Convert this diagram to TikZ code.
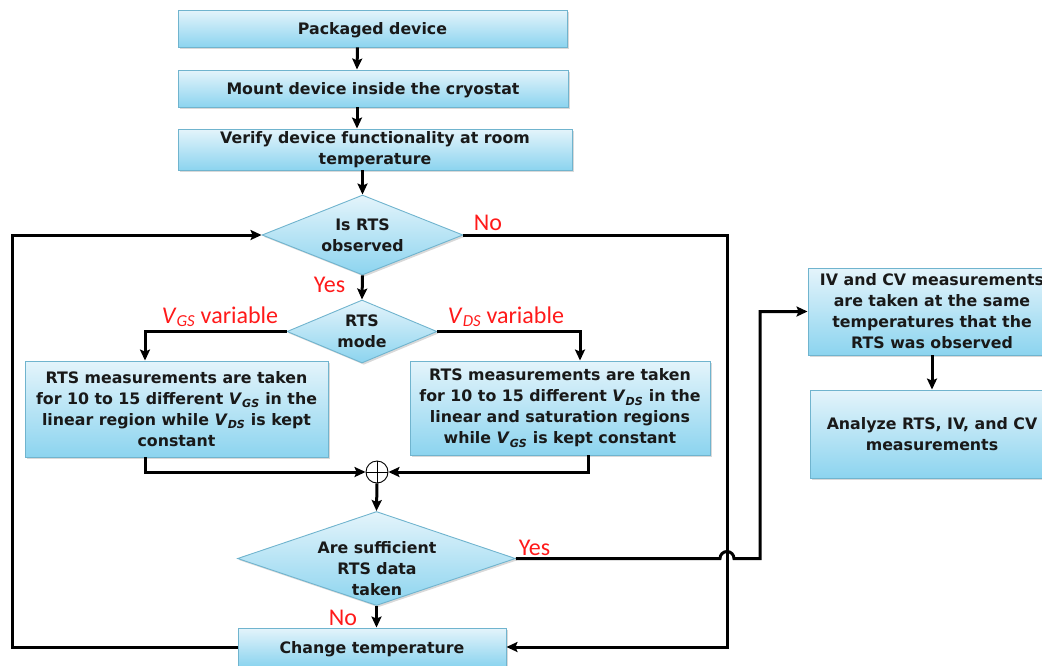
\documentclass[tikz,border=0pt]{standalone}
\usepackage{fontspec}
\setmainfont{DejaVu Sans}
\newfontfamily\lblfont{Carlito}
\usetikzlibrary{shapes.geometric,arrows.meta,shadows,calc}

\definecolor{boxtop}{HTML}{E4F4FB}
\definecolor{boxbot}{HTML}{8CD4EF}
\definecolor{boxline}{HTML}{70B4CE}
\definecolor{lblred}{HTML}{FF1A1A}

\tikzset{
  shaded/.style={draw=boxline, line width=0.9pt, top color=boxtop, bottom color=boxbot,
    drop shadow={shadow xshift=1.8pt, shadow yshift=-1.8pt, opacity=0.3}, inner sep=0pt},
  stepbox/.style={shaded, rectangle},
  decision/.style={shaded, diamond},
  boxtext/.style={font=\bfseries\fontsize{15.8}{21}\selectfont, align=center, inner sep=0pt, text=black!90},
  oneline/.style={text depth=0pt},
  lbl/.style={font=\lblfont\fontsize{24}{26}\selectfont, text=lblred, inner sep=0pt, anchor=base},
  arr/.style={-{Stealth[length=11pt,width=10pt,inset=2pt]}, line width=3pt},
}

\begin{document}
\begin{tikzpicture}[x=1pt,y=-1pt]
\useasboundingbox (0,0) rectangle (1042,665);

% main column
\node[stepbox, boxtext, oneline, minimum width=389pt, minimum height=37pt] (pkg) at (372.5,28.5) {Packaged device};
\node[stepbox, boxtext, oneline, minimum width=390pt, minimum height=37pt] (mount) at (373,88.5) {Mount device inside the cryostat};
\node[stepbox, boxtext, minimum width=394pt, minimum height=41pt] (verify) at (375,149.5) {Verify device functionality at room\\temperature};

\node[decision, minimum width=201pt, minimum height=80pt] (obs) at (362.5,235) {};
\node[boxtext] (obstext) at (obs.center) {Is RTS\\observed};

\node[decision, minimum width=150pt, minimum height=63pt] (mode) at (362,331.5) {};
\node[boxtext] (modetext) at (mode.center) {RTS\\mode};

\node[stepbox, boxtext, minimum width=303pt, minimum height=96pt] (lb) at (176.5,409)
  {RTS measurements are taken\\for 10 to 15 different \textit{V}\textsubscript{\textit{GS}} in the\\linear region while \textit{V}\textsubscript{\textit{DS}} is kept\\constant};
\node[stepbox, boxtext, minimum width=300pt, minimum height=94pt] (rb) at (560,408)
  {RTS measurements are taken\\for 10 to 15 different \textit{V}\textsubscript{\textit{DS}} in the\\linear and saturation regions\\while \textit{V}\textsubscript{\textit{GS}} is kept constant};

\node[circle, draw, line width=0.9pt, fill=white, minimum size=22pt, inner sep=0pt] (cp) at (377,472) {};
\draw[line width=0.9pt] (cp.north) -- (cp.south) (cp.west) -- (cp.east);

\node[decision, minimum width=278pt, minimum height=94pt] (suff) at (376.5,558.5) {};
\node[boxtext] (sufftext) at (377,569) {Are sufficient\\RTS data\\taken};

\node[stepbox, boxtext, oneline, minimum width=268pt, minimum height=38pt] (ct) at (372,647) {Change temperature};

% right column
\node[stepbox, boxtext, minimum width=248pt, minimum height=87pt] (iv) at (932,311.5)
  {IV and CV measurements\\are taken at the same\\temperatures that the\\RTS was observed};
\node[stepbox, boxtext, minimum width=244pt, minimum height=88pt] (an) at (932,434)
  {Analyze RTS, IV, and CV\\measurements};

% routing helpers
\coordinate (lx) at (12,400);
\coordinate (rx) at (727,400);
\coordinate (hx) at (760,400);

% connectors
\draw[arr] ($(pkg.south)+(-15,0)$) -- ($(mount.north)+(-16,0)$);
\draw[arr] ($(mount.south)+(-16,0)$) -- ($(verify.north)+(-18,0)$);
\draw[arr] (verify.south -| obs.south) -- (obs.north);
\draw[arr] (obs.south) -- (mode.north);
\draw[arr] (mode.west) -| ($(lb.north)+(-31.5,0)$);
\draw[arr] (mode.east) -| ($(rb.north)+(20,0)$);
\draw[arr] ($(lb.south)+(-31.5,0)$) |- (cp.west);
\draw[arr] ($(rb.south)+(28,0)$) |- (cp.east);
\draw[arr] (cp.south) -- (suff.north);
\draw[arr] (suff.south) -- (suff.south |- ct.north);
\draw[arr] (ct.west) -| (lx) |- (obs.west);
\draw[arr] (obs.east) -| (rx) |- (ct.east);
\draw[arr] (suff.east) -- ($(rx |- suff.east)+(-7,0)$)
  arc[start angle=180, end angle=0, radius=7pt] -- (hx |- suff.east)
  -- (hx |- iv.west) -- (iv.west);
\draw[arr] (iv.south) -- (an.north);

% branch labels
\node[lbl] (noA) at (488,230) {No};
\node[lbl] (yesA) at (329.5,292) {Yes};
\node[lbl] (vgs) at (220,323) {\textit{V}\textsubscript{\textit{GS}} variable};
\node[lbl] (vds) at (506,323) {\textit{V}\textsubscript{\textit{DS}} variable};
\node[lbl] (yesB) at (534.5,555) {Yes};
\node[lbl] (noB) at (343,625) {No};
\end{tikzpicture}
\end{document}
